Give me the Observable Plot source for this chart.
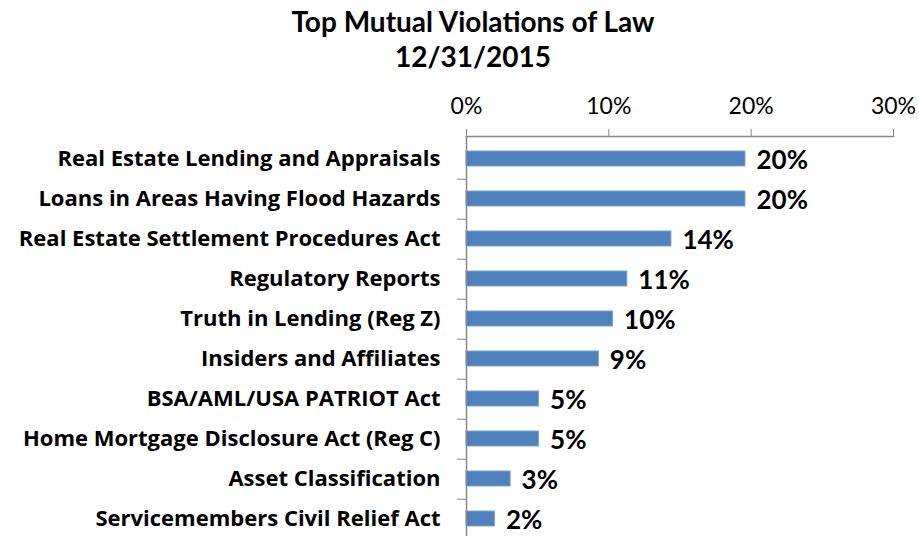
<!DOCTYPE html>
<html>
<head>
<meta charset="utf-8">
<script src="https://cdn.jsdelivr.net/npm/d3@7"></script>
<script src="https://cdn.jsdelivr.net/npm/@observablehq/plot@0.6"></script>
<style>
  html, body { margin: 0; padding: 0; background: #fff; overflow: hidden; }
  #wrap { position: relative; width: 919px; height: 536px; overflow: hidden; }
  #title { position: absolute; left: 0; top: 4px; width: 946px; text-align: center;
    font-family: Lato, "Open Sans", sans-serif; font-weight: bold; font-size: 28px; line-height: 35px; color: #000; }
</style>
</head>
<body>
<div id="wrap">
  <div id="chart"></div>
  <div id="title">Top Mutual Violations of Law<br>12/31/2015</div>
</div>
<script>
const categories = [
  "Real Estate Lending and Appraisals",
  "Loans in Areas Having Flood Hazards",
  "Real Estate Settlement Procedures Act",
  "Regulatory Reports",
  "Truth in Lending (Reg Z)",
  "Insiders and Affiliates",
  "BSA/AML/USA PATRIOT Act",
  "Home Mortgage Disclosure Act (Reg C)",
  "Asset Classification",
  "Servicemembers Civil Relief Act"
];
const values = [19.6, 19.6, 14.4, 11.3, 10.3, 9.3, 5.1, 5.1, 3.1, 2.0];
const valueLabels = ["20%", "20%", "14%", "11%", "10%", "9%", "5%", "5%", "3%", "2%"];
const xTicks = [0, 10, 20, 30];

const data = categories.map((c, i) => ({category: c, value: values[i], label: valueLabels[i]}));

const chart = Plot.plot({
  width: 919,
  height: 540,
  marginTop: 136,
  marginBottom: 0,
  marginLeft: 466,
  marginRight: 26,
  style: {fontFamily: "Lato, 'Open Sans', sans-serif", color: "#000", background: "#fff"},
  x: {domain: [0, 30]},
  y: {domain: categories, paddingInner: 0.63, paddingOuter: 0.315},
  marks: [
    Plot.barX(data, {x: "value", y: "category", fill: "#4F81BD", stroke: "#7DA3D0", strokeWidth: 1}),
    Plot.text(data, {x: "value", y: "category", text: "label", textAnchor: "start", dx: 11, dy: 2,
      fontSize: 26, fontWeight: "bold", fill: "#000"}),
    Plot.axisX({anchor: "top", ticks: xTicks, tickFormat: d => d + "%", tickSize: 8, tickPadding: 15,
      stroke: "#868686", fontSize: 23, fill: "#000", label: null}),
    Plot.axisY({anchor: "left", tickSize: 0, tickPadding: 26, fontSize: 22, fontWeight: "bold",
      fontFamily: "'Open Sans', sans-serif", fill: "#000", label: null}),
    Plot.axisY({anchor: "left", tickSize: 9, text: null, stroke: "#868686", dy: 20.2, label: null}),
    Plot.frame({anchor: "top", stroke: "#868686", strokeWidth: 1.5}),
    Plot.frame({anchor: "left", stroke: "#868686", strokeWidth: 1.5})
  ]
});
document.getElementById("chart").appendChild(chart);
</script>
</body>
</html>
